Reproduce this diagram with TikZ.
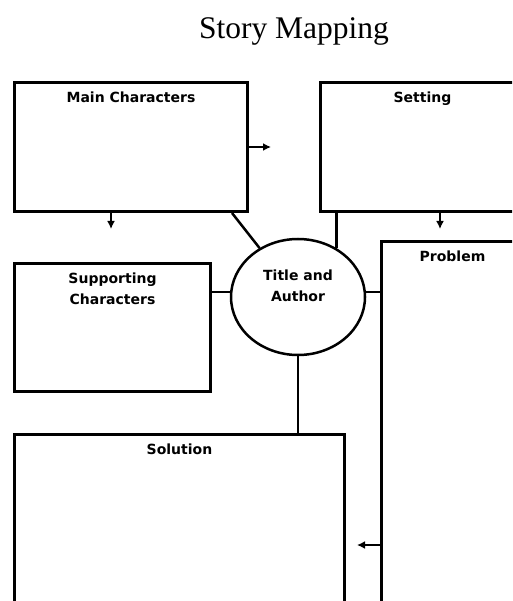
\documentclass[tikz,border=0pt]{standalone}
\usepackage{fontspec}
\setmainfont{Liberation Serif}
\newfontfamily\handfont{DejaVu Sans}
\usetikzlibrary{positioning,shapes,arrows.meta,calc}

\tikzset{
  box/.style={draw, line width=3pt, anchor=north west, inner sep=0pt},
  lbl/.style={font=\handfont\bfseries\fontsize{14}{21}\selectfont, align=center, inner sep=0pt},
  link/.style={line width=2.5pt},
  arr/.style={line width=2.5pt, -{Latex[length=8pt,width=8pt]}},
}

\begin{document}
\begin{tikzpicture}[x=1pt,y=-1pt]
      \useasboundingbox (0,0) rectangle (512,601);
      \clip (0,0) rectangle (512,601);
      \node[anchor=base, font=\fontsize{31.5}{36}\selectfont] (head) at (294,39) {Story Mapping};
      % boxes
      \node[box, minimum width=233pt, minimum height=129pt] (main) at (13,81) {};
      \node[box, minimum width=204pt, minimum height=129pt] (setting) at (319,81) {};
      \node[box, minimum width=196pt, minimum height=128pt] (support) at (13,262) {};
      \node[box, minimum width=142pt, minimum height=400pt] (problem) at (380,240) {};
      \node[box, minimum width=330pt, minimum height=200pt] (solution) at (13,433) {};
      \node[draw, ellipse, line width=2.5pt, minimum width=134pt, minimum height=116pt, inner sep=0pt] (title) at (298,297) {};
      % labels
      \node[lbl, anchor=north, below=11pt of main.north] (mainlbl) {Main Characters};
      \node[lbl, anchor=north, below=11pt of setting.north] (settinglbl) {Setting};
      \node[lbl, anchor=north, below=11pt of support.north] (supportlbl) {Supporting\\Characters};
      \node[lbl, anchor=north, below=11pt of problem.north] (problemlbl) {Problem};
      \node[lbl, anchor=north, below=11pt of solution.north] (solutionlbl) {Solution};
      \node[lbl] (titlelbl) at ($(title.center)+(0,-11)$) {Title and\\Author};
      % connectors
      \draw[arr] (main.east) -- ++(22,0);
      \draw[arr] (main.south -| 111,0) -- ++(0,16);
      \draw[arr] (setting.south -| 440,0) -- ++(0,16);
      \draw[link] (main.south -| 232,0) -- (title);
      \draw[link] (setting.south -| title.52) -- (title.52);
      \draw[link] (support.east |- title.176) -- (title.176);
      \draw[link] (title.4) -- (problem.west |- title.4);
      \draw[link] (title.south) -- (title.south |- solution.north);
      \draw[arr] (problem.west |- 0,545) -- ++(-23,0);
\end{tikzpicture}
\end{document}
